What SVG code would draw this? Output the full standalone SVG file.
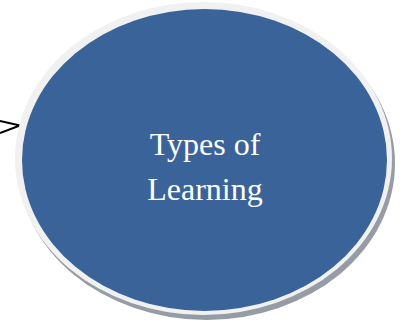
<svg xmlns="http://www.w3.org/2000/svg" width="403" height="325" viewBox="0 0 403 325">
<style>
.lbl{font-family:"Liberation Serif","Times New Roman",serif;font-size:32px;fill:#ffffff;text-anchor:middle}
.conn{fill:none;stroke:#000000;stroke-width:2}
</style>
<rect width="403" height="325" fill="#ffffff"/>
<g id="connectors">
<polyline class="conn" points="0,121 20,125.5 0,133"/>
</g>
<g id="node-types-of-learning">
<ellipse cx="206.5" cy="163.5" rx="188.5" ry="156.5" fill="#959ca6"/>
<ellipse cx="203.5" cy="158.5" rx="188.5" ry="156.5" fill="#f1f1f1"/>
<ellipse cx="204.5" cy="160" rx="182.5" ry="151" fill="#3a6399"/>
<text class="lbl" x="205" y="155">Types of</text>
<text class="lbl" x="205" y="200">Learning</text>
</g>
</svg>
